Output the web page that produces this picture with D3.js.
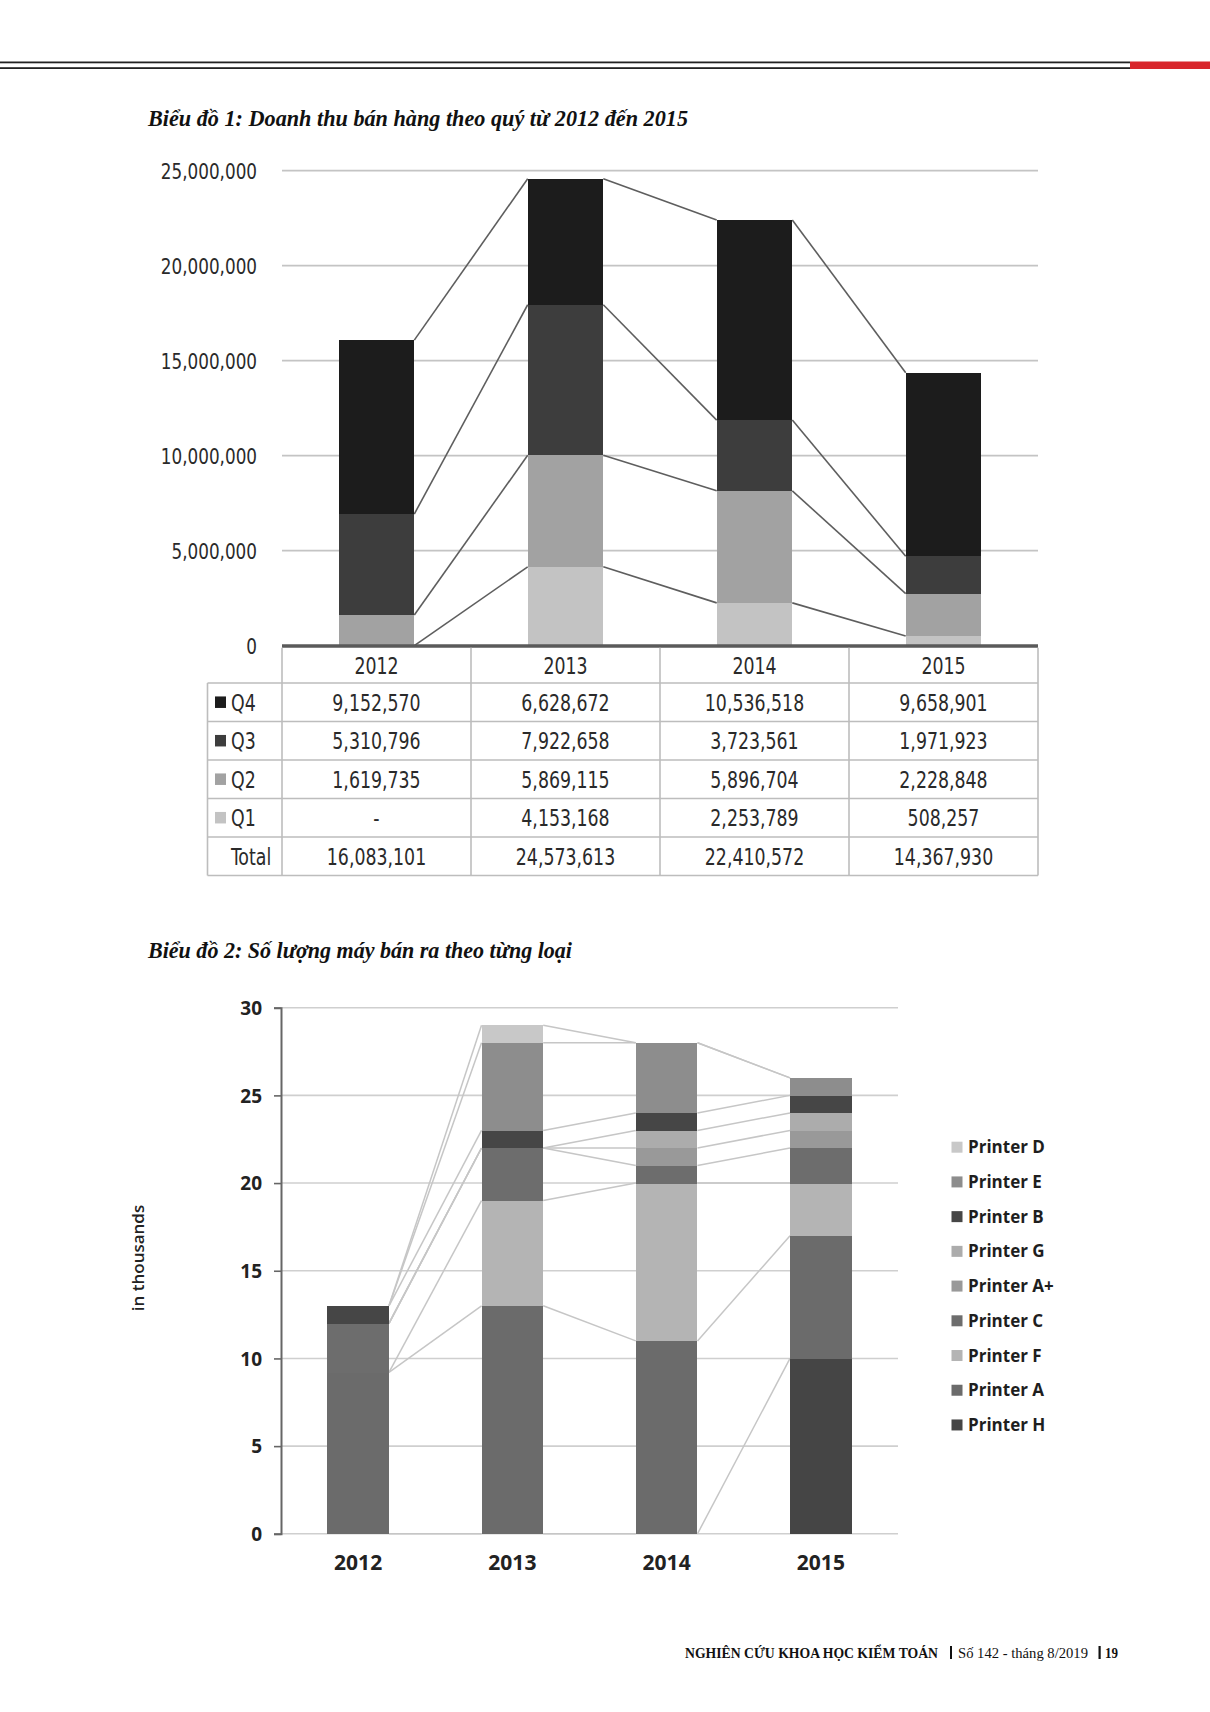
<!DOCTYPE html>
<html>
<head>
<meta charset="utf-8">
<script src="https://cdn.jsdelivr.net/npm/d3@7"></script>
<style>
  html, body { margin: 0; padding: 0; background: #fff; }
  svg { display: block; }
  .narrow { font-family: "Liberation Sans Narrow", "DejaVu Sans Condensed", "Arial Narrow", sans-serif; }
  .ttl { font-family: "Liberation Serif", "DejaVu Serif", serif; font-weight: bold; font-style: italic; }
  .bold2 { font-family: "Open Sans", "Noto Sans", sans-serif; font-weight: 700; }
</style>
</head>
<body>
<svg id="page" width="1210" height="1712"></svg>
<script>
// ---------- Chart 1 data ----------
const years = ["2012", "2013", "2014", "2015"];
const quarterNames = ["Q1", "Q2", "Q3", "Q4"];
const q1 = [0, 4153168, 2253789, 508257];
const q2 = [1619735, 5869115, 5896704, 2228848];
const q3 = [5310796, 7922658, 3723561, 1971923];
const q4 = [9152570, 6628672, 10536518, 9658901];
const totals = [16083101, 24573613, 22410572, 14367930];
const revenueTicks = [0, 5000000, 10000000, 15000000, 20000000, 25000000];
const quarterColors = ["#c3c3c3", "#a2a2a2", "#3d3d3d", "#1c1c1c"];

// ---------- Chart 2 data (in thousands), stack order bottom -> top ----------
const printerNames = ["Printer H", "Printer A", "Printer F", "Printer C", "Printer A+", "Printer G", "Printer B", "Printer E", "Printer D"];
const printerH  = [0, 0, 0, 10];
const printerA  = [9.2, 13, 11, 7];
const printerF  = [0, 6, 9, 3];
const printerC  = [2.8, 3, 1, 2];
const printerAp = [0, 0, 1, 1];
const printerG  = [0, 0, 1, 1];
const printerB  = [1, 1, 1, 1];
const printerE  = [0, 5, 4, 1];
const printerD  = [0, 1, 0, 0];
const unitTicks = [0, 5, 10, 15, 20, 25, 30];
const printerColors = ["#454545", "#6b6b6b", "#b4b4b4", "#6d6d6d", "#999999", "#acacac", "#464646", "#8d8d8d", "#c8c8c8"];

const svg = d3.select("#page");
const NARROW = 0.84;

// ---------- page decorations ----------
svg.append("rect").attr("x", 0).attr("y", 61.5).attr("width", 1130).attr("height", 1.8).attr("fill", "#222");
svg.append("rect").attr("x", 0).attr("y", 67.2).attr("width", 1130).attr("height", 1.8).attr("fill", "#222");
svg.append("rect").attr("x", 1130).attr("y", 61.5).attr("width", 80).attr("height", 7.5).attr("fill", "#d8262b");

svg.append("text").attr("class", "ttl").attr("x", 148).attr("y", 126)
  .attr("font-size", 23).attr("fill", "#111")
  .attr("textLength", 540).attr("lengthAdjust", "spacingAndGlyphs")
  .text("Biểu đồ 1: Doanh thu bán hàng theo quý từ 2012 đến 2015");

svg.append("text").attr("class", "ttl").attr("x", 148).attr("y", 958)
  .attr("font-size", 23).attr("fill", "#111")
  .attr("textLength", 424).attr("lengthAdjust", "spacingAndGlyphs")
  .text("Biểu đồ 2: Số lượng máy bán ra theo từng loại");

// footer
const foot = svg.append("g").attr("font-family", "Liberation Serif, DejaVu Serif, serif").attr("fill", "#111");
foot.append("text").attr("x", 685).attr("y", 1658).attr("font-size", 14).attr("font-weight", "bold")
  .attr("textLength", 253).attr("lengthAdjust", "spacingAndGlyphs").text("NGHIÊN CỨU KHOA HỌC KIỂM TOÁN");
foot.append("rect").attr("x", 950).attr("y", 1646).attr("width", 2).attr("height", 13).attr("fill", "#111");
foot.append("text").attr("x", 958).attr("y", 1658).attr("font-size", 14)
  .attr("textLength", 130).attr("lengthAdjust", "spacingAndGlyphs").text("Số 142 - tháng 8/2019");
foot.append("rect").attr("x", 1098.5).attr("y", 1646).attr("width", 2.2).attr("height", 13).attr("fill", "#111");
foot.append("text").attr("x", 1105).attr("y", 1658).attr("font-size", 14).attr("font-weight", "bold")
  .attr("textLength", 13).attr("lengthAdjust", "spacingAndGlyphs").text("19");

// helper: horizontally condensed text
function narrowText(g, x, y, str, size, anchor) {
  return g.append("text").attr("class", "narrow")
    .attr("transform", `translate(${x},${y}) scale(${NARROW},1)`)
    .attr("dy", "0.36em").attr("text-anchor", anchor || "start")
    .attr("font-size", size).attr("fill", "#2a2a2a").text(str);
}

// ---------- Chart 1 ----------
const c1 = svg.append("g");
const x1 = d3.scaleBand().domain(years).range([282, 1038]).paddingInner(0.6).paddingOuter(0.3);
const y1 = d3.scaleLinear().domain([0, 25000000]).range([645.7, 170.7]);

// gridlines
c1.append("g").selectAll("line").data(revenueTicks.filter(d => d > 0)).join("line")
  .attr("x1", 282).attr("x2", 1038).attr("y1", d => y1(d)).attr("y2", d => y1(d))
  .attr("stroke", "#c4c4c4").attr("stroke-width", 1.8);

// y axis labels
const ax1 = c1.append("g").attr("transform", "translate(257,0)")
  .call(d3.axisLeft(y1).tickValues(revenueTicks).tickSize(0).tickPadding(0).tickFormat(d3.format(",")));
ax1.select(".domain").remove();
ax1.selectAll("text").attr("class", "narrow").attr("font-size", 21).attr("fill", "#2a2a2a")
  .attr("x", 0).attr("dy", "0.36em").attr("transform", "scale(0.89,1)");

// stacked data
const qSeries = [q1, q2, q3, q4];
const stack1 = years.map((yr, i) => {
  let acc = 0;
  return qSeries.map((s, k) => { const y0 = acc; acc += s[i]; return { yr, k, y0, y1: acc }; });
});

// connector lines
for (let i = 0; i < years.length - 1; i++) {
  for (let k = 0; k < 4; k++) {
    c1.append("line")
      .attr("x1", x1(years[i]) + x1.bandwidth()).attr("y1", y1(stack1[i][k].y1))
      .attr("x2", x1(years[i + 1])).attr("y2", y1(stack1[i + 1][k].y1))
      .attr("stroke", "#5e5e5e").attr("stroke-width", 1.6);
  }
}
// bars
stack1.forEach(col => {
  c1.append("g").attr("shape-rendering", "crispEdges").selectAll("rect").data(col.filter(d => d.y1 > d.y0)).join("rect")
    .attr("x", d => x1(d.yr)).attr("width", x1.bandwidth())
    .attr("y", d => y1(d.y1)).attr("height", d => y1(d.y0) - y1(d.y1))
    .attr("fill", d => quarterColors[d.k]);
});
// axis baseline
c1.append("line").attr("x1", 282).attr("x2", 1038).attr("y1", 646).attr("y2", 646)
  .attr("stroke", "#5a5a5a").attr("stroke-width", 3.6);

// ---------- Table ----------
const tb = svg.append("g");
const rowEdges = [647.8, 683, 721.5, 760, 798.5, 837, 875.5];
const colEdges = [282].concat(years.map(y => x1(y) - x1.step() * 0.3 + x1.step()));
const tableLeft = 207.5;
const lineCol = "#bdbdbd";
tb.selectAll("line.v").data(colEdges).join("line")
  .attr("x1", d => d).attr("x2", d => d).attr("y1", rowEdges[0]).attr("y2", rowEdges[6])
  .attr("stroke", lineCol).attr("stroke-width", 1.6);
tb.append("line").attr("x1", tableLeft).attr("x2", tableLeft).attr("y1", rowEdges[1]).attr("y2", rowEdges[6])
  .attr("stroke", lineCol).attr("stroke-width", 1.6);
rowEdges.slice(1).forEach(yv => {
  tb.append("line").attr("x1", tableLeft).attr("x2", 1038).attr("y1", yv).attr("y2", yv)
    .attr("stroke", lineCol).attr("stroke-width", 1.6);
});
// header years
years.forEach(yr => narrowText(tb, x1(yr) + x1.bandwidth() / 2, (rowEdges[0] + rowEdges[1]) / 2, yr, 23, "middle"));

const tableRows = [
  { label: "Q4", vals: q4, color: quarterColors[3] },
  { label: "Q3", vals: q3, color: quarterColors[2] },
  { label: "Q2", vals: q2, color: quarterColors[1] },
  { label: "Q1", vals: q1, color: quarterColors[0] },
  { label: "Total", vals: totals, color: null }
];
const fmt = d3.format(",");
tableRows.forEach((r, ri) => {
  const cy = (rowEdges[ri + 1] + rowEdges[ri + 2]) / 2;
  if (r.color) {
    tb.append("rect").attr("x", 215).attr("y", cy - 5.8).attr("width", 11).attr("height", 11.5).attr("fill", r.color);
  }
  narrowText(tb, 231, cy, r.label, 23, "start");
  years.forEach((yr, i) => {
    narrowText(tb, x1(yr) + x1.bandwidth() / 2, cy, r.vals[i] === 0 ? "-" : fmt(r.vals[i]), 23, "middle");
  });
});

// ---------- Chart 2 ----------
const c2 = svg.append("g");
const x2 = d3.scaleBand().domain(years).range([281, 898]).paddingInner(0.6).paddingOuter(0.3);
const y2 = d3.scaleLinear().domain([0, 30]).range([1533.8, 1007.7]);

c2.append("g").selectAll("line").data(unitTicks).join("line")
  .attr("x1", 281).attr("x2", 898).attr("y1", d => y2(d)).attr("y2", d => y2(d))
  .attr("stroke", "#cfcfcf").attr("stroke-width", 1.6);

const pSeries = [printerH, printerA, printerF, printerC, printerAp, printerG, printerB, printerE, printerD];
const stack2 = years.map((yr, i) => {
  let acc = 0;
  return pSeries.map((s, k) => { const y0 = acc; acc += s[i]; return { yr, k, y0, y1: acc }; });
});
for (let i = 0; i < years.length - 1; i++) {
  for (let k = 0; k < pSeries.length; k++) {
    c2.append("line")
      .attr("x1", x2(years[i]) + x2.bandwidth()).attr("y1", y2(stack2[i][k].y1))
      .attr("x2", x2(years[i + 1])).attr("y2", y2(stack2[i + 1][k].y1))
      .attr("stroke", "#c6c6c6").attr("stroke-width", 1.5);
  }
}
stack2.forEach(col => {
  c2.append("g").attr("shape-rendering", "crispEdges").selectAll("rect").data(col.filter(d => d.y1 > d.y0)).join("rect")
    .attr("x", d => x2(d.yr)).attr("width", x2.bandwidth())
    .attr("y", d => y2(d.y1)).attr("height", d => y2(d.y0) - y2(d.y1) + 0.5)
    .attr("fill", d => printerColors[d.k]);
});

// y axis
const ax2 = c2.append("g").attr("transform", "translate(281,0)")
  .call(d3.axisLeft(y2).tickValues(unitTicks).tickSize(7).tickPadding(12).tickFormat(d3.format("d")));
ax2.select(".domain").attr("stroke", "#666").attr("stroke-width", 2);
ax2.selectAll(".tick line").attr("stroke", "#666").attr("stroke-width", 1.6);
ax2.selectAll("text").attr("class", "bold2").attr("font-size", 19).attr("fill", "#222").attr("dy", "0.36em");

// x labels
const ax2x = c2.append("g").attr("transform", "translate(0,1534)")
  .call(d3.axisBottom(x2).tickSize(0).tickPadding(36));
ax2x.select(".domain").remove();
ax2x.selectAll("text").attr("class", "bold2").attr("font-size", 21).attr("fill", "#222").attr("dy", 0);

// y title
c2.append("text").attr("transform", "translate(144,1258) rotate(-90)")
  .attr("text-anchor", "middle").attr("font-family", "Open Sans, sans-serif").attr("font-weight", 600)
  .attr("font-size", 17).attr("fill", "#222").text("in thousands");

// legend (reverse of stack order)
const legendOrder = printerNames.map((n, k) => ({ n, k })).reverse();
const lg = c2.append("g");
legendOrder.forEach((d, i) => {
  const cy = 1147.2 + i * 34.72;
  lg.append("rect").attr("x", 951.5).attr("y", cy - 5.5).attr("width", 11).attr("height", 11).attr("fill", printerColors[d.k]);
  lg.append("text").attr("class", "bold2").attr("x", 968).attr("y", cy).attr("dy", "0.36em")
    .attr("font-size", 17).attr("fill", "#1e1e1e").text(d.n);
});
</script>
</body>
</html>
